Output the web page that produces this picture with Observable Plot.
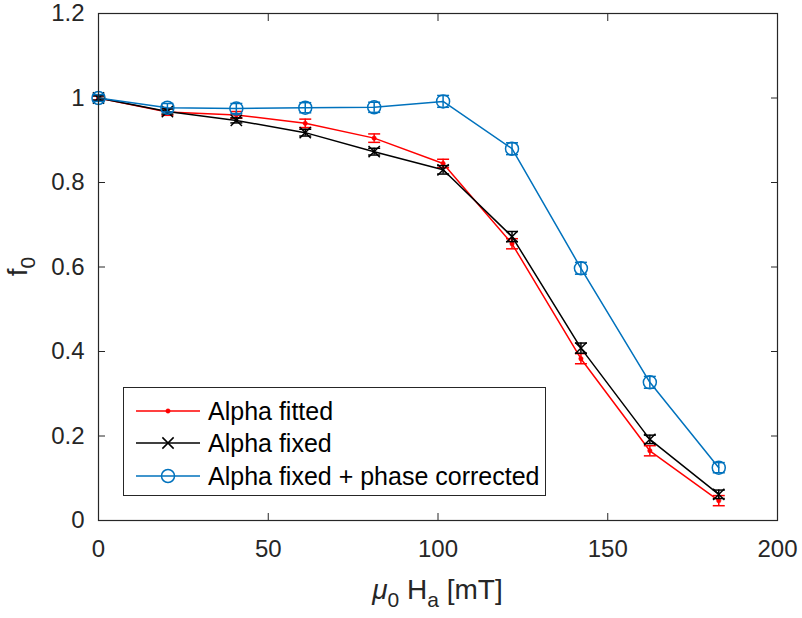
<!DOCTYPE html>
<html>
<head>
<meta charset="utf-8">
<script src="https://cdn.jsdelivr.net/npm/d3@7"></script>
<script src="https://cdn.jsdelivr.net/npm/@observablehq/plot@0.6"></script>
<style>
  body { margin: 0; background: #fff; }
  #chart { position: relative; width: 802px; height: 618px; font-family: "Liberation Sans", Arial, sans-serif; color: #262626; }
  #legend { position: absolute; left: 123px; top: 387px; width: 421px; height: 107px; border: 1px solid #262626; background: #fff; box-sizing: content-box; }
  .entry { position: absolute; left: 0; height: 30px; display: flex; align-items: center; font-size: 25px; color: #000; white-space: nowrap; }
  .entry svg { margin-left: 12px; margin-right: 8px; }
</style>
</head>
<body>
<div id="chart"><div id="legend"></div></div>
<script>
// Applied field (mT)
const fieldMT = [0, 20.3, 40.6, 60.9, 81.2, 101.5, 121.8, 142.1, 162.4, 182.7];

// Normalised f0 per analysis variant, with error bar half-widths
const alphaFitted    = [1.000, 0.967, 0.960, 0.940, 0.905, 0.845, 0.655, 0.383, 0.165, 0.047];
const alphaFittedErr = [0.005, 0.008, 0.008, 0.010, 0.010, 0.010, 0.012, 0.012, 0.012, 0.012];
const alphaFixed     = [1.000, 0.968, 0.947, 0.918, 0.873, 0.830, 0.672, 0.408, 0.192, 0.062];
const alphaFixedErr  = [0.005, 0.006, 0.006, 0.008, 0.008, 0.010, 0.012, 0.012, 0.010, 0.010];
const phaseCorr      = [1.000, 0.977, 0.975, 0.977, 0.978, 0.992, 0.880, 0.597, 0.327, 0.125];
const phaseCorrErr   = [0.008, 0.010, 0.012, 0.012, 0.012, 0.014, 0.014, 0.014, 0.014, 0.012];

const seriesNames  = ["Alpha fitted", "Alpha fixed", "Alpha fixed + phase corrected"];
const seriesColors = ["#ff0000", "#000000", "#0072bd"];

const xTicks = [0, 50, 100, 150, 200];
const yTicks = [0, 0.2, 0.4, 0.6, 0.8, 1, 1.2];

const toRows = (vals, errs, name) =>
  fieldMT.map((x, i) => ({x, y: vals[i], lo: vals[i] - errs[i], hi: vals[i] + errs[i], series: name}));

const data = [
  toRows(alphaFitted, alphaFittedErr, seriesNames[0]),
  toRows(alphaFixed, alphaFixedErr, seriesNames[1]),
  toRows(phaseCorr, phaseCorrErr, seriesNames[2])
];

// horizontal cap for the error bars
const capSymbol = {draw(ctx, size) { const w = Math.sqrt(size / Math.PI); ctx.moveTo(-w, 0); ctx.lineTo(w, 0); }};
const markerStyle = [
  {symbol: "circle", r: 2.2, fill: seriesColors[0], stroke: seriesColors[0], strokeWidth: 0.5},
  {symbol: "times", r: 5.2, fill: "none", stroke: seriesColors[1], strokeWidth: 1.5},
  {symbol: "circle", r: 6.5, fill: "none", stroke: seriesColors[2], strokeWidth: 1.5}
];

const seriesMarks = data.flatMap((rows, k) => {
  const c = seriesColors[k];
  return [
    Plot.line(rows, {x: "x", y: "y", stroke: c, strokeWidth: 1.5}),
    Plot.ruleX(rows, {x: "x", y1: "lo", y2: "hi", stroke: c, strokeWidth: 1.5}),
    Plot.dot(rows, {x: "x", y: "lo", symbol: capSymbol, r: 6, stroke: c, strokeWidth: 1.5}),
    Plot.dot(rows, {x: "x", y: "hi", symbol: capSymbol, r: 6, stroke: c, strokeWidth: 1.5}),
    Plot.dot(rows, {x: "x", y: "y", ...markerStyle[k]})
  ];
});

const axisColor = "#262626";
const fmt = d => `${d}`;
const T = 7; // inward tick length

const chart = Plot.plot({
  width: 802,
  height: 618,
  marginLeft: 98,
  marginRight: 25,
  marginTop: 13,
  marginBottom: 98,
  style: {fontFamily: '"Liberation Sans", Arial, sans-serif', background: "#fff", overflow: "visible"},
  x: {domain: [0, 200]},
  y: {domain: [0, 1.2]},
  marks: [
    ...seriesMarks,
    Plot.frame({stroke: axisColor, strokeWidth: 1.2}),
    // inward ticks on all four sides
    Plot.axisX(xTicks, {anchor: "bottom", tickSize: T, dy: -T, text: null, stroke: axisColor, label: null}),
    Plot.axisX(xTicks, {anchor: "top", tickSize: T, dy: T, text: null, stroke: axisColor, label: null}),
    Plot.axisY(yTicks, {anchor: "left", tickSize: T, dx: T, text: null, stroke: axisColor, label: null}),
    Plot.axisY(yTicks, {anchor: "right", tickSize: T, dx: -T, text: null, stroke: axisColor, label: null}),
    // tick labels
    Plot.axisX(xTicks, {anchor: "bottom", tickSize: 0, tickPadding: 19, tickFormat: fmt, fontSize: 24, fill: axisColor, label: null}),
    Plot.axisY(yTicks, {anchor: "left", tickSize: 0, tickPadding: 14, tickFormat: fmt, fontSize: 24, fill: axisColor, label: null})
  ]
});

document.getElementById("chart").prepend(chart);

// axis titles with subscripts
const svg = d3.select(chart);
const xs = chart.scale("x"), ys = chart.scale("y");
const xMid = (xs.range[0] + xs.range[1]) / 2;
const yMid = (ys.range[0] + ys.range[1]) / 2;

const xt = svg.append("text")
  .attr("x", xMid).attr("y", 599)
  .attr("text-anchor", "middle")
  .attr("fill", axisColor)
  .style("font-size", "28px");
xt.append("tspan").attr("font-style", "italic").text("μ");
xt.append("tspan").attr("dy", 8).style("font-size", "21px").text("0");
xt.append("tspan").attr("dy", -8).text(" H");
xt.append("tspan").attr("dy", 8).style("font-size", "21px").text("a");
xt.append("tspan").attr("dy", -8).text(" [mT]");

const yt = svg.append("text")
  .attr("transform", `translate(27,${yMid}) rotate(-90)`)
  .attr("text-anchor", "middle")
  .attr("fill", axisColor)
  .style("font-size", "28px");
yt.append("tspan").text("f");
yt.append("tspan").attr("dy", 8).style("font-size", "21px").text("0");

// legend
const legend = d3.select("#legend");
const rowTops = [8, 40, 73];
seriesNames.forEach((name, k) => {
  const e = legend.append("div").attr("class", "entry").style("top", rowTops[k] + "px");
  const s = e.append("svg").attr("width", 64).attr("height", 20);
  s.append("line").attr("x1", 0).attr("x2", 64).attr("y1", 10).attr("y2", 10)
    .attr("stroke", seriesColors[k]).attr("stroke-width", 1.5);
  const m = markerStyle[k];
  const path = d3.symbol(m.symbol === "times" ? d3.symbolTimes : d3.symbolCircle, m.r * m.r * Math.PI)();
  s.append("path").attr("d", path).attr("transform", "translate(32,10)")
    .attr("fill", m.fill).attr("stroke", m.stroke).attr("stroke-width", m.strokeWidth);
  e.append("span").text(name);
});
</script>
</body>
</html>
